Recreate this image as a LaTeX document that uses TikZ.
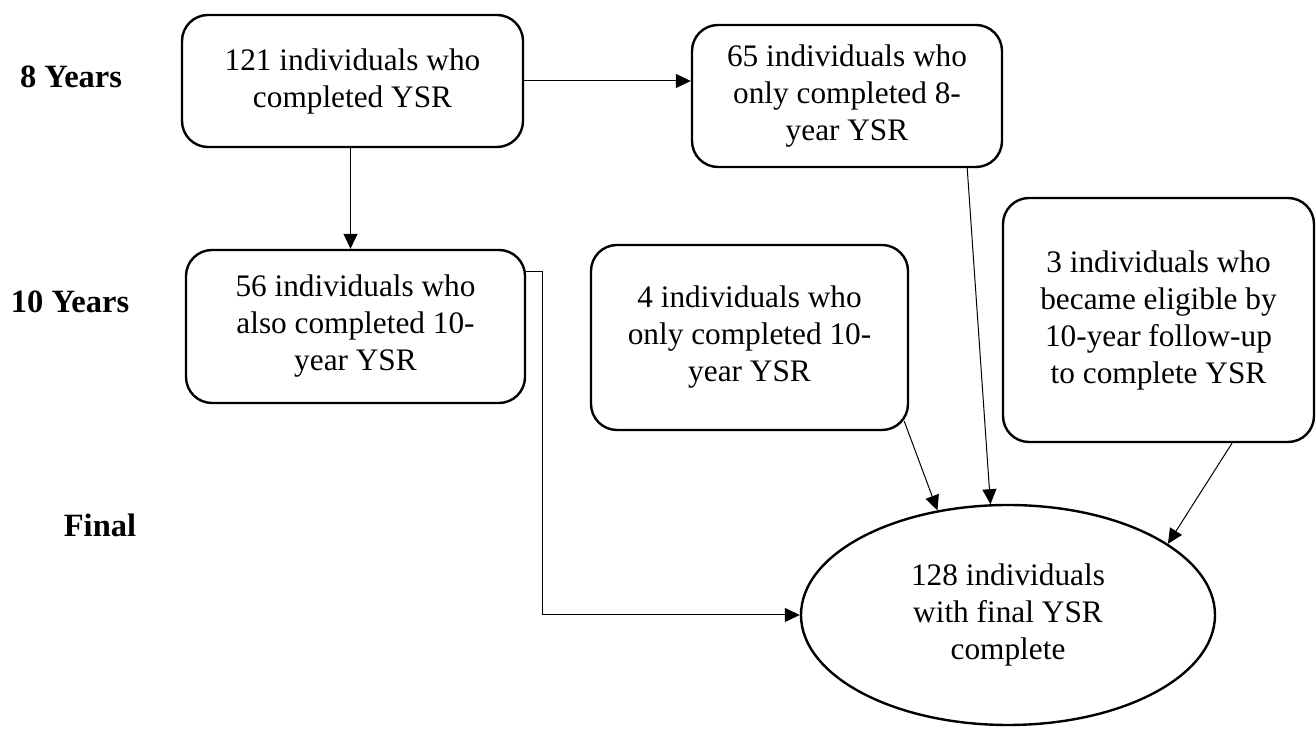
\documentclass[tikz,border=0pt]{standalone}
\usepackage{fontspec}
\setmainfont{Liberation Serif}
\usetikzlibrary{arrows.meta,shapes.geometric,calc}
\tikzstyle{stage}=[rectangle, rounded corners=26pt, draw=black, line width=2.4pt, align=center, inner sep=0pt, font=\fontsize{31.3}{37}\selectfont]
\tikzstyle{final}=[ellipse, draw=black, line width=2.4pt, minimum width=414pt, minimum height=220pt, inner sep=0pt, align=center, font=\fontsize{31.3}{37}\selectfont]
\tikzstyle{period}=[align=center, font=\fontsize{32.5}{38}\selectfont\bfseries]
\tikzstyle{flow}=[-{Triangle[length=15pt,width=14pt]}, line width=1pt]

\begin{document}
\begin{tikzpicture}[x=1pt,y=1pt]
	\useasboundingbox (0,0) rectangle (1316,730);

	% row labels
	\node[period] (eight) at (71,653) {8 Years};
	\node[period] (ten) at (70,428) {10 Years};
	\node[period] (fin) at (100,205) {Final};

	\node[stage, minimum width=341pt, minimum height=132pt] (all8) at (352.5,649) {121 individuals who\\completed YSR};
	\node[stage, minimum width=310pt, minimum height=142pt] (only8) at (847,634) {65 individuals who\\only completed 8-\\year YSR};
	\node[stage, minimum width=339pt, minimum height=153pt] (also10) at (355.5,403.5) {56 individuals who\\also completed 10-\\year YSR};
	\node[stage, minimum width=317pt, minimum height=185pt] (only10) at (749.5,392.5) {4 individuals who\\only completed 10-\\year YSR};
	\node[stage, minimum width=311pt, minimum height=244pt] (late) at (1158.5,410) {3 individuals who\\became eligible by\\10-year follow-up\\to complete YSR};
	\node[final] (total) at (1008,115) {128 individuals\\with final YSR\\complete};

	\coordinate (drop) at ($(all8.south)+(-2,0)$);

	\draw[flow] (all8.east) -- (all8.east -| only8.west);
	\draw[flow] (drop) -- (drop |- also10.north);
	\draw[flow] ($(also10.north east)+(0,-23)$) -- ++(16,0) |- (total.west);
	\draw[flow] ($(only8.south east)+(-36,0)$) -- (total.99);
	\draw[flow] ($(only10.south east)+(-5,10)$) -- (total.124);
	\draw[flow] ($(late.south)+(73.5,0)$) -- (total.24);

\end{tikzpicture}
\end{document}
